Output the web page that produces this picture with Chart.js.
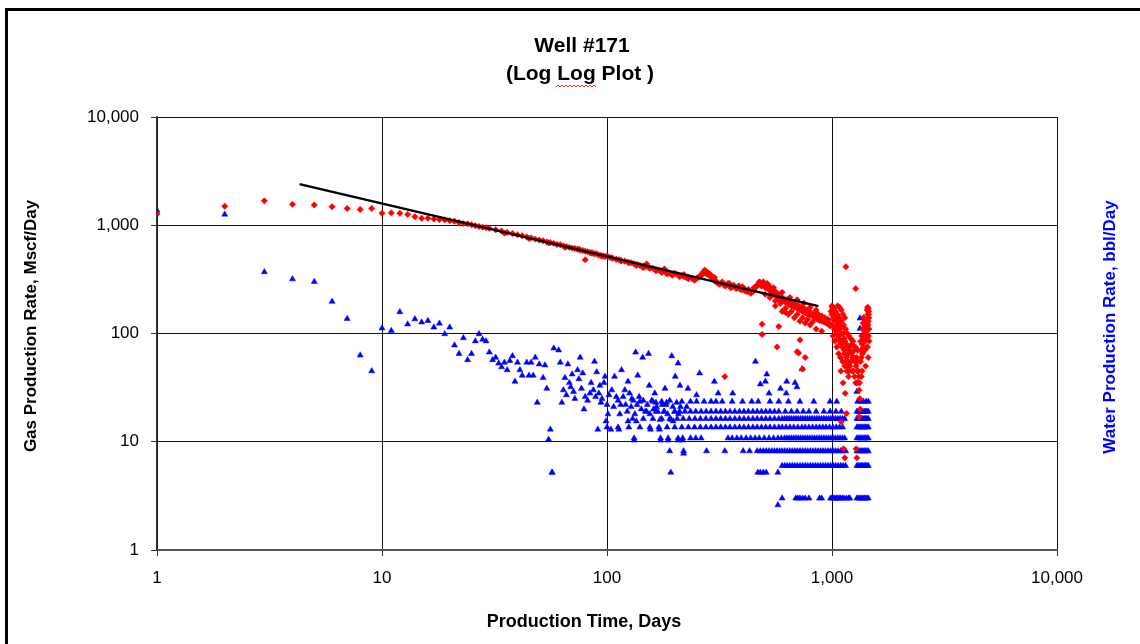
<!DOCTYPE html>
<html lang="en">
<head>
  <meta charset="UTF-8" />
  <title>Well #171</title>
  <script src="https://cdn.jsdelivr.net/npm/chart.js"></script>
  <style>
    html, body { margin: 0; padding: 0; background: #fff; overflow: hidden; }
    #marco { position: absolute; left: 5px; top: 8px; width: 2000px; height: 2000px; border: 3px solid #000; }
    #grafico { position: absolute; left: 0; top: 0; }
  </style>
</head>
<body>
  <div id="marco"></div>
  <canvas id="grafico" width="1140" height="644"></canvas>

  <script>
    // --- datos ---
    const titleLines = ['Well #171', '(Log Log Plot )'];
    const xTitle = 'Production Time, Days';
    const gasTitle = 'Gas Production Rate, Mscf/Day';
    const waterTitle = 'Water Production Rate, bbl/Day';
    const axisTicks = [1, 10, 100, 1000, 10000];

    // linea de tendencia (extremos)
    const trendDays = [4.3, 870];
    const trendRate = [2400, 179];

    // gas, Mscf/Day
    const gasDays = [
      1, 2, 3, 4, 5, 6, 7, 8, 9, 10,
      11, 12, 13, 14, 15, 16, 17, 18, 19, 20,
      21, 22, 23, 24, 25, 26, 27, 28, 29, 30,
      32, 34, 36, 38, 40, 42, 44, 46, 48, 50,
      52, 54, 56, 58, 60, 62, 64, 66, 68, 70,
      72, 74, 76, 78, 80, 80, 82, 84, 86, 88,
      90, 92, 94, 96, 98, 100, 103, 106, 110, 113,
      116, 120, 124, 128, 132, 136, 140, 145, 150, 155,
      160, 165, 170, 175, 180, 185, 190, 195, 200, 205,
      210, 215, 220, 225, 230, 240, 250, 260, 265, 270,
      275, 280, 285, 290, 295, 300, 305, 310, 320, 330,
      340, 350, 360, 370, 380, 390, 400, 410, 420, 430,
      440, 450, 460, 470, 480, 490, 500, 510, 520, 530,
      540, 550, 560, 570, 580, 590, 600, 620, 640, 660,
      680, 700, 720, 740, 760, 780, 800, 820, 840, 860,
      880, 900, 920, 940, 960, 980, 150, 180, 220, 300,
      350, 400, 450, 520, 550, 600, 650, 700, 750, 800,
      850, 560, 600, 640, 680, 720, 760, 800, 850, 900,
      489, 489, 580, 570, 721, 700, 760, 740, 620, 710,
      334, 1153, 1275, 1140, 1290, 1100, 1160, 1125, 1280, 1320,
      1000, 1005, 1010, 1015, 1020, 1025, 1030, 1035, 1040, 1045,
      1050, 1055, 1060, 1065, 1070, 1075, 1080, 1085, 1090, 1095,
      1100, 1105, 1110, 1115, 1120, 1125, 1130, 1135, 1140, 1145,
      1150, 1155, 1160, 1165, 1170, 1175, 1180, 1185, 1190, 1195,
      1200, 1210, 1220, 1230, 1240, 1250, 1260, 1270, 1280, 1290,
      1300, 1310, 1320, 1330, 1335, 1340, 1350, 1360, 1370, 1380,
      1390, 1400, 1410, 1420, 1430, 1440, 1445, 1450, 1455, 1460,
      870, 900, 930, 960, 990, 1000, 1010, 1020, 1060, 1080,
      1100, 1120, 1140, 1440, 1455, 1435, 1340, 1350, 1360, 1380,
      35, 45, 55, 65, 75, 85, 95, 105, 115, 125,
      135, 145, 155, 165, 175, 185, 195, 210, 230, 245,
      255, 262, 268, 272, 278, 283, 288, 292, 298, 302,
      315, 325, 335, 345, 355, 365, 375, 385, 395, 405,
      415, 425, 435, 445, 455, 465, 475, 485, 495, 505,
      515, 525, 535, 545, 555, 565, 575, 585, 595, 610,
      630, 650, 670, 690, 710, 730, 750, 770, 790, 810,
      830, 850, 870, 890, 910, 930, 950, 970, 990, 1000,
      505, 530, 560, 590, 620, 660, 700, 740, 780, 820,
      1003, 1012, 1022, 1032, 1042, 1052, 1062, 1072, 1082, 1092,
      1102, 1112, 1122, 1132, 1142, 1152, 1162, 1172, 1182, 1192,
      1202, 1215, 1225, 1235, 1245, 1255, 1265, 1275, 1285, 1295,
      1305, 1315, 1325, 1345, 1355, 1365, 1375, 1385, 1395, 1405,
      1415, 1425, 1435, 1445, 1452, 1458, 1462, 1448, 1438, 1428,
      1400, 1410
    ];
    const gasRate = [
      1270, 1500, 1680, 1560, 1540, 1480, 1430, 1400, 1430, 1290,
      1300, 1290, 1260, 1200, 1160, 1160, 1140, 1130, 1120, 1100,
      1090, 1060, 1040, 1030, 1010, 990, 975, 960, 950, 935,
      910, 885, 860, 840, 815, 800, 780, 765, 745, 730,
      720, 700, 690, 680, 665, 660, 645, 635, 625, 615,
      610, 600, 590, 585, 575, 480, 570, 560, 555, 545,
      545, 530, 525, 520, 515, 520, 505, 495, 485, 480,
      470, 465, 455, 450, 440, 435, 425, 420, 415, 405,
      400, 390, 385, 380, 375, 365, 360, 355, 360, 350,
      340, 345, 335, 330, 330, 320, 325, 340, 350, 365,
      360, 350, 345, 340, 325, 310, 300, 295, 290, 285,
      280, 275, 270, 270, 265, 258, 255, 250, 245, 245,
      240, 250, 270, 285, 295, 290, 280, 270, 260, 250,
      240, 230, 225, 220, 210, 205, 200, 195, 185, 180,
      175, 170, 165, 160, 155, 150, 148, 145, 140, 135,
      132, 130, 128, 125, 122, 118, 440, 395, 350, 330,
      290, 270, 265, 280, 265, 240, 215, 205, 190, 175,
      165, 180, 160, 150, 140, 130, 125, 120, 110, 105,
      122, 98, 116, 75, 87, 68, 60, 47, 157, 66,
      40, 414, 260, 7.1, 7.1, 15.3, 18.3, 8.6, 8.6, 17,
      150, 120, 95, 170, 140, 110, 85, 160, 130, 100,
      75, 150, 120, 90, 65, 140, 110, 85, 60, 45,
      130, 100, 75, 55, 35, 120, 90, 70, 50, 28,
      110, 80, 60, 45, 100, 75, 55, 40, 95, 70,
      50, 90, 65, 45, 85, 60, 40, 75, 50, 35,
      70, 45, 30, 25, 20, 55, 40, 80, 110, 140,
      100, 70, 50, 120, 90, 150, 170, 130, 160, 110,
      150, 145, 140, 135, 160, 180, 175, 165, 180, 175,
      165, 150, 140, 175, 150, 125, 85, 60, 45, 75,
      845, 755, 690, 625, 600, 555, 520, 500, 470, 450,
      425, 405, 400, 380, 365, 355, 345, 335, 320, 310,
      330, 350, 370, 385, 370, 360, 350, 330, 320, 305,
      285, 300, 275, 290, 265, 280, 260, 275, 255, 262,
      245, 255, 235, 245, 265, 280, 300, 275, 300, 265,
      290, 275, 260, 255, 245, 240, 230, 225, 215, 210,
      205, 200, 190, 185, 180, 175, 170, 165, 160, 155,
      150, 155, 145, 140, 135, 130, 128, 125, 120, 160,
      230, 215, 200, 190, 170, 160, 150, 140, 135, 128,
      175, 135, 155, 115, 145, 105, 130, 95, 120, 80,
      115, 85, 100, 65, 85, 55, 75, 50, 65, 45,
      75, 55, 80, 60, 45, 70, 55, 35, 60, 45,
      55, 40, 35, 70, 95, 65, 125, 90, 120, 85,
      130, 100, 165, 120, 95, 140, 85, 60, 75, 110,
      95, 110
    ];

    // agua dispersa, bbl/Day
    const waterDays = [
      1, 2, 3, 4, 5, 6, 7, 8, 9, 10,
      11, 12, 13, 14, 15, 16, 17, 18, 19, 20,
      21, 22, 23, 24, 25, 26, 27, 28, 29, 30,
      31, 32, 33, 34, 35, 36, 37, 38, 39, 40,
      41, 42, 44, 45, 46, 47, 48, 49, 50, 52,
      53, 54, 55, 56, 57, 58, 61, 62, 63, 65,
      67, 68, 70, 71, 74, 76, 78, 79, 80, 85,
      88, 90, 91, 93, 94, 98, 99, 101, 104, 108,
      113, 114, 116, 120, 124, 124, 129, 132, 134, 137,
      135, 144, 153, 154, 156, 163, 166, 171, 173, 181,
      184, 187, 194, 197, 201, 207, 207, 211, 217, 219,
      226, 229, 258, 300, 312, 362, 457, 513, 506, 480,
      525, 629, 590, 685, 736, 699, 626, 250, 1332, 1332,
      64, 66, 69, 72, 75, 77, 82, 84, 87, 89,
      92, 95, 97, 100, 102, 105, 107, 110, 112, 115,
      118, 121, 123, 126, 128, 131, 133, 136, 139, 142,
      145, 148, 151, 155, 158, 161, 165, 168, 172, 176,
      179, 183, 186, 190, 193, 196, 200, 204, 208, 212,
      1290, 1300
    ];
    const waterRate = [
      1370, 1260, 370, 318, 301, 197, 137, 63, 45, 112,
      106, 158, 122, 136, 127, 131, 114, 124, 99, 114,
      78, 65, 91, 57, 65, 85, 99, 88, 85, 67,
      57, 60, 53, 49, 54, 46, 56, 62, 36, 54,
      46, 41, 54, 41, 54, 41, 60, 23, 52, 39,
      51, 31, 10.5, 13, 5.2, 73, 70, 54, 23, 39,
      52, 35, 42, 29, 46, 60, 43, 20, 26, 35,
      55, 44, 13, 33, 23, 40, 15.5, 18, 13, 40,
      13, 18, 46, 30, 36, 15.5, 25, 10.3, 67, 41,
      15.5, 60, 65, 33, 13, 28, 21, 13, 10.3, 31,
      23, 10.3, 62, 15.5, 40, 53, 10.3, 33, 10.3, 7.8,
      21, 31, 43, 36, 28, 28, 55, 42, 36, 34,
      28, 36, 31, 35, 47, 32, 28, 27, 138, 111,
      30, 27, 32, 25, 38, 31, 24, 28, 30, 26,
      28, 25, 35, 22, 27, 30, 21, 26, 24, 22,
      26, 22, 19, 28, 21, 24, 18, 22, 26, 20,
      24, 19, 22, 18, 24, 20, 23, 19, 16, 22,
      19, 22, 18, 24, 16, 21, 19, 23, 18, 21,
      29, 35
    ];

    // agua en bandas (caudales repetidos)
    const waterBandRates = [23.5, 19, 16.3, 13.6, 10.8, 8.2, 6, 5.2, 3, 2.6];
    const waterBandDays = [
      [140, 160, 175, 215, 235, 250, 270, 290, 305, 325, 360, 400, 440, 470, 530, 580,
       640, 720, 830, 980, 1050, 1300, 1340, 1380, 1420, 1450],
      [150, 165, 180, 200, 210, 222, 235, 248, 262, 276, 290, 305, 320, 336, 352, 370, 388, 406, 425, 445, 465, 486, 508, 530, 555, 580,
       620, 660, 700, 745, 790, 850, 920, 980, 1040, 1100,
       1290, 1310, 1330, 1350, 1370, 1390, 1410, 1430, 1450],
      [130, 145, 160, 175, 190, 205, 218, 232, 246, 260, 275, 290, 305, 320, 336, 352, 370, 388, 406, 425, 445, 465, 486, 508, 530, 555, 580,
       600, 615, 630, 645, 660, 676, 692, 708, 725, 742, 760, 778, 797, 816, 836, 856, 877, 898, 920, 942, 965, 988, 1012, 1036, 1061, 1086, 1112, 1138,
       1290, 1310, 1330, 1350, 1370, 1390, 1410, 1430, 1450],
      [100, 112, 125, 140, 155, 170, 185, 200, 215, 230, 245, 260, 275, 290, 305, 320, 336, 352, 370, 388, 406, 425, 445, 465, 486, 508, 530, 555, 580,
       600, 625, 650, 676, 705, 735, 760, 790, 820, 850, 880, 910, 940, 975, 1010, 1045, 1080, 1115,
       1290, 1310, 1330, 1350, 1370, 1390, 1410, 1430, 1450],
      [132, 173, 187, 207, 217, 235, 248, 262, 345, 360, 378, 395, 415, 435, 455, 475, 500, 525, 550, 575, 595,
       615, 630, 645, 660, 676, 692, 708, 725, 742, 760, 778, 797, 816, 836, 856, 877, 898, 920, 942, 965, 988, 1012, 1036, 1061, 1086, 1112, 1138,
       1290, 1310, 1330, 1350, 1370, 1390, 1410, 1430, 1450],
      [190, 219, 277, 334, 403, 430, 465, 480, 495, 510, 525, 540, 555, 570, 585, 600, 616, 632, 649, 666, 684, 702, 721, 740, 760, 780,
       801, 822, 844, 866, 889, 912, 936, 961, 986, 1012, 1038, 1065, 1093, 1121, 1150,
       1290, 1310, 1330, 1350, 1370, 1390, 1410, 1430, 1450],
      [600, 616, 632, 649, 666, 684, 702, 721, 740, 760, 780, 801, 822, 844, 866, 889, 912, 936, 961, 986, 1012, 1038, 1065, 1093, 1121, 1150,
       1290, 1310, 1330, 1350, 1370, 1390, 1410, 1430, 1450],
      [57, 192, 468, 480, 495, 510, 575],
      [600, 690, 705, 720, 740, 760, 790, 880, 900, 985, 1000, 1015, 1030, 1045, 1060, 1075, 1090, 1110, 1130, 1160, 1185, 1200,
       1290, 1310, 1330, 1350, 1370, 1390, 1410, 1430, 1450],
      [575]
    ];

    // --- construccion de series ---
    const puntos = (xs, ys) => xs.map((x, i) => ({ x: x, y: ys[i] }));
    const aguaPuntos = puntos(waterDays, waterRate);
    waterBandDays.forEach((dias, b) => {
      dias.forEach(d => aguaPuntos.push({ x: d, y: waterBandRates[b] }));
    });

    const fuente = '"Liberation Sans", Arial, sans-serif';

    const textos = {
      id: 'textos',
      afterDraw(chart) {
        const c = chart.ctx;
        c.save();
        c.fillStyle = '#000';
        c.textAlign = 'center';
        c.textBaseline = 'middle';
        c.font = 'bold 21px ' + fuente;
        c.fillText(titleLines[0], 582, 46);
        c.fillText(titleLines[1], 580, 74);
        // subrayado ondulado rojo bajo "Log"
        c.strokeStyle = '#e00000';
        c.lineWidth = 0.8;
        c.beginPath();
        for (let x = 556, k = 0; x <= 597; x += 2, k++) {
          const y = 86 + (k % 2 ? -1 : 1);
          if (k === 0) c.moveTo(x, y); else c.lineTo(x, y);
        }
        c.stroke();

        c.font = 'bold 18px ' + fuente;
        c.fillText(xTitle, 584, 622);
        c.font = 'bold 17px ' + fuente;
        c.translate(31, 326);
        c.rotate(-Math.PI / 2);
        c.fillText(gasTitle, 0, 0);
        c.restore();

        c.save();
        c.fillStyle = '#0000ff';
        c.textAlign = 'center';
        c.textBaseline = 'middle';
        c.font = 'bold 17px ' + fuente;
        c.translate(1110, 327);
        c.rotate(-Math.PI / 2);
        c.fillText(waterTitle, 0, 0);
        c.restore();
      }
    };

    const ejeLog = (tamano) => ({
      type: 'logarithmic',
      min: 1,
      max: 10000,
      afterBuildTicks: s => { s.ticks = axisTicks.map(v => ({ value: v })); },
      ticks: {
        callback: v => Number(v).toLocaleString('en-US'),
        font: { family: fuente, size: 17 },
        color: '#000',
        padding: 12,
        maxRotation: 0,
        autoSkip: false
      },
      grid: { color: '#111', lineWidth: 1, tickLength: 6, tickColor: '#333' },
      afterFit: tamano
    });

    const ctx = document.getElementById('grafico').getContext('2d');
    const chart = new Chart(ctx, {
      type: 'scatter',
      data: {
        datasets: [
          {
            label: 'Trend',
            data: puntos(trendDays, trendRate),
            showLine: true,
            borderColor: '#000',
            borderWidth: 2.5,
            pointRadius: 0,
            order: 0
          },
          {
            label: 'Gas',
            data: puntos(gasDays, gasRate),
            pointStyle: 'rectRot',
            pointRadius: 3.2,
            backgroundColor: '#ff0000',
            borderColor: '#ff0000',
            borderWidth: 0.5,
            order: 1
          },
          {
            label: 'Water',
            data: aguaPuntos,
            pointStyle: 'triangle',
            pointRadius: 3.5,
            backgroundColor: '#0000ff',
            borderColor: '#0000ff',
            borderWidth: 0.5,
            order: 2
          }
        ]
      },
      options: {
        responsive: false,
        animation: false,
        layout: { padding: { top: 117, right: 83, bottom: 0, left: 0 } },
        plugins: { legend: { display: false }, tooltip: { enabled: false } },
        scales: {
          x: Object.assign(ejeLog(s => { s.height = 94; }), { border: { color: '#555', width: 2 } }),
          y: Object.assign(ejeLog(s => { s.width = 157; }), { border: { color: '#333', width: 1.5 } })
        }
      },
      plugins: [textos]
    });
  </script>
</body>
</html>
